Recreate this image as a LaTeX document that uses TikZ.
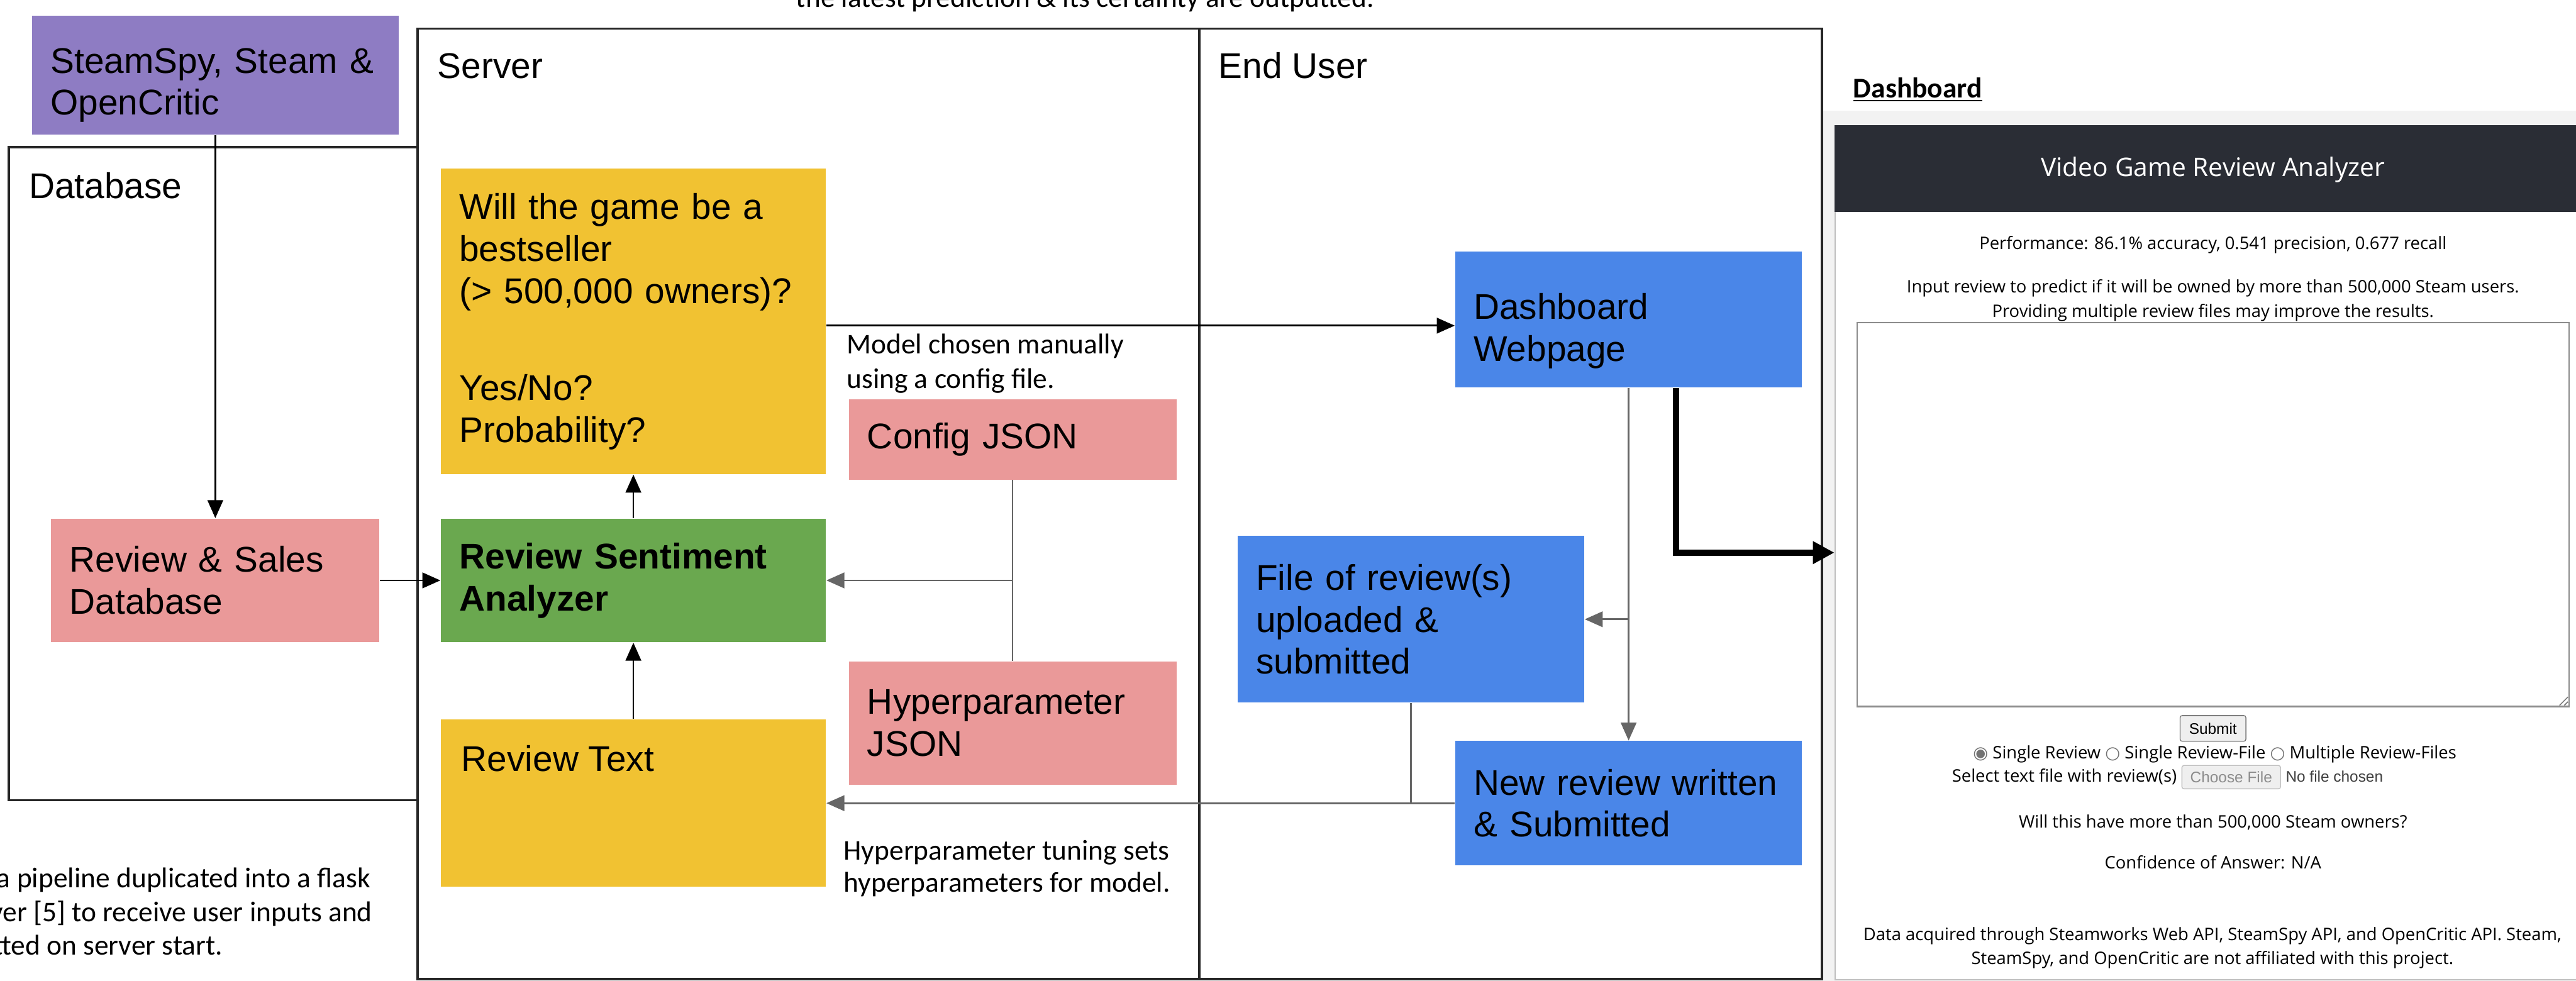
\documentclass[tikz,border=0pt]{standalone}
\usepackage{fontspec}
\setmainfont{Liberation Sans}
\newfontfamily\notefont{Carlito}
\newfontfamily\webfont{Open Sans}
\newfontfamily\radiofont{DejaVu Sans}
\usetikzlibrary{calc}
\usetikzlibrary{arrows.meta}
\tikzset{>={Triangle[width=2.6mm,length=3.0mm]}}

\definecolor{srcpurple}{HTML}{8E7CC3}
\definecolor{predyellow}{HTML}{F1C232}
\definecolor{rsagreen}{HTML}{6AA84F}
\definecolor{cfgpink}{HTML}{EA9999}
\definecolor{userblue}{HTML}{4A86E8}
\definecolor{headdark}{HTML}{2A2D35}
\definecolor{btngray}{HTML}{EFEFEF}

\newcommand{\boxfont}{\fontsize{17}{20}\selectfont}
\newcommand{\notesize}{\notefont\fontsize{13.6}{16}\selectfont}
\newcommand{\websize}{\webfont\fontsize{8.2}{10}\selectfont}
\newcommand{\btnsize}{\fontsize{7.3}{9}\selectfont}

\tikzset{
  box/.style={inner xsep=3.1mm, inner ysep=0pt, align=left, font=\boxfont},
  lbl/.style={inner sep=0pt, font=\boxfont},
  note/.style={inner sep=0pt, font=\notesize},
  web/.style={inner sep=0pt, font=\websize},
  lane/.style={draw=black!85, line width=1.1pt},
  wire/.style={draw=black, line width=0.8pt},
  gwire/.style={draw=black!60, line width=0.8pt},
  btn/.style={draw=black!55, fill=btngray, rounded corners=1pt, inner sep=0pt, font=\btnsize},
}

\begin{document}
\begin{tikzpicture}
  \useasboundingbox (0,0) rectangle (43.07,-16.40);

  \draw[lane] (0.15,-2.46) rectangle (6.98,-13.38);
  \draw[lane] (6.98,-0.48) rectangle (20.05,-16.37);
  \draw[lane] (20.05,-0.48) -- (30.46,-0.48) -- (30.46,-16.37) -- (20.05,-16.37);
  \node[lbl, anchor=base west] (dblane) at (0.48,-3.32) {Database};
  \node[lbl, anchor=base west] (srvlane) at (7.31,-1.31) {Server};
  \node[lbl, anchor=base west] (userlane) at (20.37,-1.31) {End User};

  \node[box, fill=srcpurple, text width=55.1mm, minimum height=19.9mm] (src) at (3.60,-1.255) {};
  \node[box, text width=55.1mm] (srctxt) at (3.60,-1.425) {SteamSpy, Steam \&\\OpenCritic};
  \node[box, fill=cfgpink, text width=48.7mm, minimum height=20.7mm] (db) at (3.60,-9.705) {Review \& Sales\\Database};
  \node[box, fill=rsagreen, text width=58.2mm, minimum height=20.7mm, font=\boxfont\bfseries] (rsa) at (10.59,-9.705) {Review Sentiment\\Analyzer};
  \node[box, fill=predyellow, text width=58.2mm, minimum height=51.1mm] (pred) at (10.59,-5.375) {Will the game be a\\bestseller\\(> 500,000 owners)?\\[26pt]Yes/No?\\Probability?};
  \node[box, fill=predyellow, text width=58.2mm, minimum height=28mm] (rtext) at (10.59,-13.43) {};
  \node[lbl, anchor=base west] (rtextlbl) at (7.71,-12.90) {Review Text};
  \node[box, fill=cfgpink, text width=48.6mm, minimum height=13.4mm] (cfg) at (16.93,-7.35) {Config JSON};
  \node[box, fill=cfgpink, text width=48.6mm, minimum height=20.6mm] (hyp) at (16.93,-12.09) {Hyperparameter\\JSON};
  \node[box, fill=userblue, text width=51.8mm, minimum height=22.7mm] (dash) at (27.23,-5.345) {};
  \node[box, text width=51.8mm] (dashtxt) at (27.23,-5.535) {Dashboard\\Webpage};
  \node[box, fill=userblue, text width=51.8mm, minimum height=27.9mm] (file) at (23.59,-10.355) {File of review(s)\\uploaded \&\\submitted};
  \node[box, fill=userblue, text width=51.8mm, minimum height=20.8mm] (newrev) at (27.23,-13.43) {New review written\\\& Submitted};

  \node[note, anchor=base east] (outtxt) at (22.98,-0.12) {the latest prediction \& its certainty are outputted.};
  \node[note, anchor=base west] (chosen1) at (14.15,-5.91) {Model chosen manually};
  \node[note, anchor=base west] (chosen2) at (14.15,-6.49) {using a config file.};
  \node[note, anchor=base west] (tune1) at (14.10,-14.38) {Hyperparameter tuning sets};
  \node[note, anchor=base west] (tune2) at (14.10,-14.92) {hyperparameters for model.};
  \node[note, anchor=base east] (flask1) at (6.20,-14.84) {a pipeline duplicated into a flask};
  \node[note, anchor=base east] (flask2) at (6.23,-15.41) {ver [5] to receive user inputs and};
  \node[note, anchor=base east] (flask3) at (3.73,-15.97) {tted on server start.};

  \draw[wire, ->] (src) -- (db);
  \draw[wire, ->] (db) -- (rsa);
  \draw[wire, ->] (rsa) -- (pred);
  \draw[wire, ->] (rtext) -- (rsa);
  \draw[wire, ->] ([yshift=-0.07cm]pred.east) -- ([yshift=-0.07cm]pred.east -| dash.west);
  \draw[gwire] (cfg) -- (hyp);
  \draw[gwire, ->] (cfg.south |- rsa.east) -- (rsa.east);
  \draw[gwire, ->] (dash) -- (newrev);
  \draw[gwire, ->] (dash.south |- file.east) -- (file.east);
  \draw[gwire] (file) -- (file.south |- newrev.west);
  \draw[gwire, ->] (newrev.west) -- (rtext.east);

  \node[note, font=\notesize\bfseries, anchor=base west] (dashlbl) at (30.98,-1.63) {\underline{Dashboard}};
  \fill[black!5] (30.48,-1.85) rectangle (43.07,-16.40);
  \node[fill=white, draw=black!25, line width=0.6pt, inner sep=0pt, minimum width=12.60cm, minimum height=14.28cm, anchor=north west] (shot) at (30.67,-2.09) {};
  \node[fill=headdark, inner sep=0pt, minimum width=12.60cm, minimum height=1.45cm, anchor=north west] (head) at (shot.north west) {};
  \node[web, font=\webfont\fontsize{12.2}{14}\selectfont, text=white, anchor=base] (title) at (37.00,-2.95) {Video Game Review Analyzer};
  \node[web, anchor=base] (perf) at (37.00,-4.17) {Performance: 86.1\% accuracy, 0.541 precision, 0.677 recall};
  \node[web, anchor=base] (inp1) at (37.00,-4.90) {Input review to predict if it will be owned by more than 500,000 Steam users.};
  \node[web, anchor=base] (inp2) at (37.00,-5.30) {Providing multiple review files may improve the results.};
  \node[draw=black!45, line width=0.7pt, inner sep=0pt, minimum width=11.90cm, minimum height=6.42cm, anchor=north west] (area) at (31.04,-5.38) {};
  \draw[black!50, line width=0.5pt] ([shift={(-0.17,0.03)}]area.south east) -- ([shift={(-0.03,0.17)}]area.south east)
    ([shift={(-0.09,0.03)}]area.south east) -- ([shift={(-0.03,0.09)}]area.south east);
  \node[btn, minimum width=1.10cm, minimum height=0.43cm] (submit) at (37.00,-12.18) {Submit};
  \node[web, anchor=base] (radio) at (37.03,-12.69) {{\radiofont\textcolor{black!55}{◉}} Single Review {\radiofont\textcolor{black!55}{○}} Single Review-File {\radiofont\textcolor{black!55}{○}} Multiple Review-Files};
  \node[web, anchor=base west] (sel) at (32.63,-13.08) {Select text file with review(s)};
  \node[btn, draw=black!25, text=black!45, minimum width=1.65cm, minimum height=0.39cm] (choose) at (37.305,-12.995) {Choose File};
  \node[inner sep=0pt, font=\btnsize, text=black!75, anchor=base west] (nofile) at (38.21,-13.08) {No file chosen};
  \node[web, anchor=base] (ask) at (37.00,-13.84) {Will this have more than 500,000 Steam owners?};
  \node[web, anchor=base] (conf) at (37.00,-14.53) {Confidence of Answer: N/A};
  \node[web, anchor=base] (data1) at (36.99,-15.72) {Data acquired through Steamworks Web API, SteamSpy API, and OpenCritic API. Steam,};
  \node[web, anchor=base] (data2) at (36.99,-16.13) {SteamSpy, and OpenCritic are not affiliated with this project.};

  \draw[line width=3.1pt, -{Triangle[width=3.6mm,length=3.6mm]}] ([xshift=7.9mm]dash.south) |- (shot.west);
\end{tikzpicture}
\end{document}
